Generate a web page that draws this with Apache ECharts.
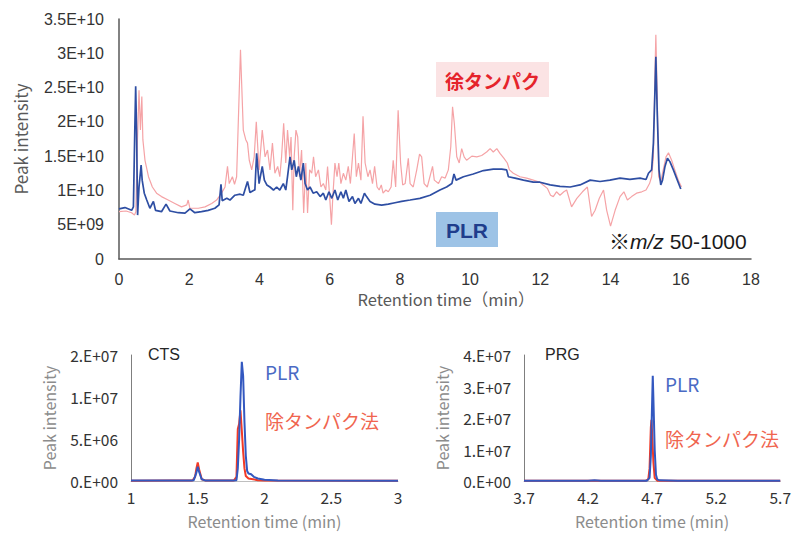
<!DOCTYPE html>
<html>
<head>
<meta charset="utf-8">
<script src="https://cdn.jsdelivr.net/npm/echarts@6/dist/echarts.min.js"></script>
<style>
html,body{margin:0;padding:0;background:#fff;}
#chart{width:794px;height:535px;}
</style>
</head>
<body>
<div id="chart"></div>
<script>
// ---- Top chromatogram (time in min, intensity in units of 1E9) ----
const topYLabels = ['0','5E+09','1E+10','1.5E+10','2E+10','2.5E+10','3E+10','3.5E+10'];
const redTop = [[0,6.9],[0.2,7.0],[0.36,6.75],[0.44,6.4],[0.48,6.9],[0.52,16.4],[0.57,24.6],[0.61,18.8],[0.65,23.7],[0.68,17.4],[0.74,14.4],[0.84,12.0],[0.95,10.5],[1.07,9.6],[1.21,9.1],[1.40,8.6],[1.59,8.1],[1.78,7.6],[1.93,7.9],[1.97,8.6],[2.02,7.4],[2.26,7.4],[2.45,7.6],[2.64,8.1],[2.78,8.6],[2.92,9.6],[3.02,10.5],[3.09,13.5],[3.14,11.0],[3.23,12.0],[3.29,10.9],[3.35,12.0],[3.42,23.7],[3.46,30.5],[3.49,26.1],[3.54,18.8],[3.61,17.4],[3.66,16.9],[3.71,14.4],[3.78,13.0],[3.85,14.9],[3.91,20.0],[3.99,13.0],[4.08,18.8],[4.16,14.9],[4.23,15.9],[4.30,13.0],[4.37,16.9],[4.44,12.5],[4.52,13.5],[4.58,12.0],[4.63,14.9],[4.69,19.8],[4.75,14.0],[4.80,18.8],[4.86,14.9],[4.90,17.8],[4.95,7.1],[4.99,14.9],[5.04,18.8],[5.09,17.8],[5.14,12.0],[5.20,15.9],[5.26,6.7],[5.32,14.0],[5.37,6.7],[5.43,13.0],[5.49,12.5],[5.54,14.9],[5.60,12.0],[5.68,13.0],[5.75,10.5],[5.82,11.0],[5.89,10.06],[5.94,13.5],[6.00,9.1],[6.05,5.0],[6.09,9.1],[6.15,14.0],[6.21,12.0],[6.26,14.0],[6.32,11.0],[6.39,12.5],[6.46,11.5],[6.53,13.5],[6.59,11.0],[6.65,14.9],[6.70,18.3],[6.76,12.0],[6.82,14.0],[6.89,11.5],[6.95,20.8],[7.01,14.0],[7.09,12.0],[7.15,13.0],[7.22,11.0],[7.28,13.5],[7.35,10.5],[7.41,10.06],[7.47,10.8],[7.52,9.6],[7.60,10.06],[7.67,9.8],[7.75,10.5],[7.81,14.4],[7.88,10.5],[7.95,21.7],[8.02,14.0],[8.08,10.8],[8.15,11.0],[8.24,14.7],[8.29,11.0],[8.38,10.5],[8.48,13.0],[8.56,15.3],[8.62,14.9],[8.69,11.0],[8.78,10.5],[8.88,12.5],[8.93,13.5],[8.98,11.5],[9.10,11.0],[9.19,12.0],[9.29,11.8],[9.38,13.0],[9.45,16.4],[9.50,22.2],[9.55,19.8],[9.62,14.9],[9.69,14.0],[9.76,16.1],[9.83,14.9],[9.90,14.4],[10.05,15.0],[10.19,14.9],[10.33,15.1],[10.47,15.6],[10.57,16.1],[10.66,15.6],[10.76,16.1],[10.85,15.4],[10.96,14.7],[11.06,14.0],[11.12,13.0],[11.23,12.5],[11.42,12.0],[11.61,11.8],[11.80,11.5],[11.99,11.2],[12.08,10.8],[12.20,10.3],[12.29,9.3],[12.37,9.1],[12.46,9.8],[12.56,9.3],[12.67,9.8],[12.75,10.06],[12.89,7.6],[13.04,8.85],[13.20,9.8],[13.34,10.5],[13.46,6.2],[13.56,7.1],[13.68,8.85],[13.80,10.06],[13.89,7.1],[14.00,4.8],[14.13,7.1],[14.27,9.1],[14.38,9.8],[14.48,8.6],[14.60,9.1],[14.74,9.6],[14.89,9.8],[15.01,10.06],[15.11,11.0],[15.17,12.0],[15.22,14.9],[15.26,26.1],[15.29,32.7],[15.33,23.7],[15.37,12.0],[15.43,11.3],[15.50,13.0],[15.58,14.9],[15.65,15.5],[15.74,14.4],[15.83,13.0],[15.93,11.5],[16.02,10.5]];
const blueTop = [[0,7.3],[0.17,7.5],[0.36,7.1],[0.41,7.6],[0.45,18.8],[0.475,25.2],[0.50,18.8],[0.53,6.4],[0.57,10.5],[0.63,13.7],[0.66,11.5],[0.72,9.6],[0.79,8.6],[0.88,7.4],[0.98,8.4],[1.04,7.1],[1.21,6.9],[1.34,8.0],[1.45,7.0],[1.69,6.75],[1.88,6.7],[2.02,7.3],[2.16,6.75],[2.35,6.9],[2.54,7.1],[2.73,7.4],[2.85,7.9],[2.905,10.9],[2.94,8.5],[3.07,8.85],[3.16,8.6],[3.30,9.3],[3.45,9.45],[3.54,9.3],[3.66,11.3],[3.73,9.7],[3.83,10.0],[3.87,10.06],[3.92,15.4],[3.99,11.0],[4.08,13.5],[4.14,11.5],[4.21,10.8],[4.30,10.5],[4.40,10.06],[4.49,10.5],[4.58,10.06],[4.68,11.0],[4.75,10.06],[4.80,12.0],[4.87,14.9],[4.92,13.0],[4.99,14.4],[5.05,12.0],[5.11,13.5],[5.18,11.5],[5.25,14.0],[5.30,11.0],[5.37,10.06],[5.44,10.5],[5.53,9.6],[5.63,9.8],[5.73,9.1],[5.82,9.6],[5.89,8.6],[5.98,9.8],[6.06,8.85],[6.15,10.06],[6.23,8.6],[6.32,9.8],[6.39,8.85],[6.46,10.06],[6.55,8.4],[6.65,9.1],[6.72,8.1],[6.82,8.85],[6.89,8.1],[6.99,9.6],[7.05,9.1],[7.15,8.4],[7.29,8.0],[7.48,7.85],[7.67,8.0],[7.86,8.2],[8.05,8.4],[8.29,8.6],[8.57,8.85],[8.86,9.3],[9.14,10.06],[9.33,10.5],[9.48,11.0],[9.54,12.4],[9.60,11.5],[9.81,12.0],[10.09,12.4],[10.38,12.9],[10.66,13.1],[10.90,13.1],[11.04,13.0],[11.09,12.0],[11.28,11.8],[11.52,11.5],[11.80,11.2],[11.99,11.2],[12.28,10.8],[12.56,10.6],[12.85,10.5],[13.13,10.8],[13.42,11.5],[13.70,11.3],[13.98,11.5],[14.27,11.8],[14.55,11.6],[14.84,11.8],[15.01,11.6],[15.08,12.5],[15.17,13.0],[15.22,16.9],[15.26,23.7],[15.29,29.5],[15.33,21.2],[15.38,13.0],[15.43,10.8],[15.48,11.5],[15.55,13.5],[15.62,14.7],[15.69,14.2],[15.79,13.0],[15.88,11.8],[16.00,10.2]];

// ---- CTS (time in min, intensity) ----
const ctsYLabels = ['0.E+00','5.E+06','1.E+07','2.E+07'];
const ctsXLabels = ['1','1.5','2','2.5','3'];
const ctsRed = [[1.0,3e4],[1.3,5e4],[1.46,6e4],[1.48,5e5],[1.49,1.5e6],[1.50,2.2e6],[1.51,1.4e6],[1.53,2e5],[1.56,5e4],[1.77,5e4],[1.79,5e5],[1.80,6.2e6],[1.81,6.8e6],[1.82,8.4e6],[1.83,6.0e6],[1.84,3.5e6],[1.85,1.5e6],[1.86,6e5],[1.88,3e5],[1.95,1e5],[2.0,5e4],[3.0,3e4]];
const ctsBlue = [[1.0,5e4],[1.45,5e4],[1.47,1e5],[1.49,1.0e6],[1.50,1.7e6],[1.51,1.1e6],[1.53,2e5],[1.56,5e4],[1.76,5e4],[1.79,1e5],[1.80,1.5e6],[1.81,5.0e6],[1.82,1.0e7],[1.83,1.42e7],[1.84,1.25e7],[1.85,7.0e6],[1.86,3.0e6],[1.87,1.2e6],[1.88,9e5],[1.90,8e5],[1.92,5e5],[1.95,3e5],[2.0,1.5e5],[2.1,5e4],[3.0,3e4]];

// ---- PRG ----
const prgYLabels = ['0.E+00','1.E+07','2.E+07','3.E+07','4.E+07'];
const prgXTicks = [3.7,4.2,4.7,5.2,5.7];
const prgXLabels = ['3.7','4.2','4.7','5.2','5.7'];
const prgRed = [[3.7,5e4],[4.5,8e4],[4.65,1e5],[4.67,5e5],[4.68,4.0e6],[4.69,1.7e7],[4.695,1.94e7],[4.70,1.5e7],[4.71,6.0e6],[4.72,1.0e6],[4.74,1e5],[4.8,8e4],[5.7,5e4]];
const prgBlue = [[3.7,1e5],[4.2,1e5],[4.25,2.5e5],[4.3,1e5],[4.66,1e5],[4.68,1.0e6],[4.69,8.0e6],[4.70,2.5e7],[4.705,3.34e7],[4.71,2.6e7],[4.72,1.0e7],[4.73,2.0e6],[4.74,5e5],[4.76,2e5],[4.9,1e5],[5.7,1e5]];

const JP = '"Noto Sans CJK JP", "Noto Sans", sans-serif';
const ARIAL = '"Liberation Sans", Arial, "Noto Sans CJK JP", sans-serif';

const chart = echarts.init(document.getElementById('chart'), null, {renderer: 'svg', width: 794, height: 535});

function idxLabel(arr, step, base) { return v => arr[Math.round((v - (base || 0)) / step)] ?? ''; }

const option = {
  animation: false,
  backgroundColor: '#ffffff',
  grid: [
    {left: 119, top: 19, width: 632, height: 240},
    {left: 131, top: 355, width: 267, height: 126},
    {left: 524, top: 355, width: 258, height: 126}
  ],
  xAxis: [
    {gridIndex: 0, type: 'value', min: 0, max: 18, interval: 2,
     axisLine: {show: true, lineStyle: {color: '#595959', width: 1.5}},
     axisTick: {show: false}, splitLine: {show: false},
     axisLabel: {color: '#333', fontSize: 16, fontFamily: ARIAL, margin: 12},
     name: 'Retention time（min）', nameLocation: 'middle', nameGap: 32,
     nameTextStyle: {color: '#595959', fontSize: 16.5, fontFamily: JP, padding: [0, 0, 0, 22]}},
    {gridIndex: 1, type: 'value', min: 1, max: 3, interval: 0.5,
     axisLine: {show: true, lineStyle: {color: '#bfbfbf', width: 1}},
     axisTick: {show: false}, splitLine: {show: false},
     axisLabel: {color: '#333', fontSize: 15.5, fontFamily: JP, margin: 8, formatter: idxLabel(ctsXLabels, 0.5, 1)},
     name: 'Retention time (min)', nameLocation: 'middle', nameGap: 32,
     nameTextStyle: {color: '#8c8c8c', fontSize: 16, fontFamily: JP}},
    {gridIndex: 2, type: 'value', min: 3.7, max: 5.7,
     axisLine: {show: true, lineStyle: {color: '#bfbfbf', width: 1}},
     axisTick: {show: false}, splitLine: {show: false},
     axisLabel: {color: '#333', fontSize: 15.5, fontFamily: JP, margin: 8, customValues: prgXTicks,
       formatter: v => { const i = prgXTicks.findIndex(t => Math.abs(t - v) < 1e-6); return i >= 0 ? prgXLabels[i] : ''; }},
     name: 'Retention time (min)', nameLocation: 'middle', nameGap: 32,
     nameTextStyle: {color: '#8c8c8c', fontSize: 16, fontFamily: JP}}
  ],
  yAxis: [
    {gridIndex: 0, type: 'value', min: 0, max: 35, interval: 5,
     axisLine: {show: true, lineStyle: {color: '#595959', width: 1.5}},
     axisTick: {show: false}, splitLine: {show: false},
     axisLabel: {color: '#333', fontSize: 16, fontFamily: ARIAL, margin: 15, formatter: idxLabel(topYLabels, 5)},
     name: 'Peak intensity', nameLocation: 'middle', nameGap: 90,
     nameTextStyle: {color: '#595959', fontSize: 17, fontFamily: JP}},
    {gridIndex: 1, type: 'value', min: 0, max: 1.5e7, interval: 5e6,
     axisLine: {show: true, lineStyle: {color: '#7f7f7f', width: 1}},
     axisTick: {show: false}, splitLine: {show: false},
     axisLabel: {color: '#333', fontSize: 15.5, fontFamily: JP, margin: 13, formatter: idxLabel(ctsYLabels, 5e6)},
     name: 'Peak intensity', nameLocation: 'middle', nameGap: 74,
     nameTextStyle: {color: '#8c8c8c', fontSize: 16, fontFamily: JP}},
    {gridIndex: 2, type: 'value', min: 0, max: 4e7, interval: 1e7,
     axisLine: {show: true, lineStyle: {color: '#7f7f7f', width: 1}},
     axisTick: {show: false}, splitLine: {show: false},
     axisLabel: {color: '#333', fontSize: 15.5, fontFamily: JP, margin: 13, formatter: idxLabel(prgYLabels, 1e7)},
     name: 'Peak intensity', nameLocation: 'middle', nameGap: 74,
     nameTextStyle: {color: '#8c8c8c', fontSize: 16, fontFamily: JP}}
  ],
  series: [
    {name: '徐タンパク', type: 'line', xAxisIndex: 0, yAxisIndex: 0, data: redTop, showSymbol: false, silent: true,
     lineStyle: {color: '#f5a3a6', width: 1.2}, itemStyle: {color: '#f5a3a6'}},
    {name: 'PLR', type: 'line', xAxisIndex: 0, yAxisIndex: 0, data: blueTop, showSymbol: false, silent: true,
     lineStyle: {color: '#2e4ea3', width: 1.7}, itemStyle: {color: '#2e4ea3'}},
    {name: '除タンパク法 CTS', type: 'line', xAxisIndex: 1, yAxisIndex: 1, data: ctsRed, showSymbol: false, silent: true,
     lineStyle: {color: '#f23a26', width: 2}, itemStyle: {color: '#f23a26'}},
    {name: 'PLR CTS', type: 'line', xAxisIndex: 1, yAxisIndex: 1, data: ctsBlue, showSymbol: false, silent: true,
     lineStyle: {color: '#3358c0', width: 2}, itemStyle: {color: '#3358c0'}},
    {name: '除タンパク法 PRG', type: 'line', xAxisIndex: 2, yAxisIndex: 2, data: prgRed, showSymbol: false, silent: true,
     lineStyle: {color: '#f23a26', width: 2}, itemStyle: {color: '#f23a26'}},
    {name: 'PLR PRG', type: 'line', xAxisIndex: 2, yAxisIndex: 2, data: prgBlue, showSymbol: false, silent: true,
     lineStyle: {color: '#3358c0', width: 2}, itemStyle: {color: '#3358c0'}}
  ],
  graphic: [
    {type: 'rect', x: 436, y: 62, shape: {width: 113, height: 35}, style: {fill: '#fbe3e4'}, silent: true},
    {type: 'text', x: 492.5, y: 80, silent: true,
     style: {text: '徐タンパク', fill: '#e5232b', font: 'bold 19px ' + JP, align: 'center', verticalAlign: 'middle', textAlign: 'center', textVerticalAlign: 'middle'}},
    {type: 'rect', x: 436, y: 212, shape: {width: 62, height: 35}, style: {fill: '#9dc3e6'}, silent: true},
    {type: 'text', x: 467, y: 230, silent: true,
     style: {text: 'PLR', fill: '#1f3d8c', font: 'bold 21px ' + ARIAL, align: 'center', verticalAlign: 'middle', textAlign: 'center', textVerticalAlign: 'middle'}},
    {type: 'text', x: 609, y: 241, silent: true,
     style: {text: '{a|※}{b|m/z}{a| 50-1000}', fill: '#1a1a1a', font: '21px ' + ARIAL, align: 'left', verticalAlign: 'middle', textAlign: 'left', textVerticalAlign: 'middle',
       rich: {a: {fontSize: 21, fontFamily: ARIAL, fill: '#1a1a1a', color: '#1a1a1a'}, b: {fontSize: 21, fontStyle: 'italic', fontFamily: ARIAL, fill: '#1a1a1a', color: '#1a1a1a'}}}},
    {type: 'text', x: 148, y: 354, silent: true,
     style: {text: 'CTS', fill: '#262626', font: '16px ' + ARIAL, align: 'left', verticalAlign: 'middle', textAlign: 'left', textVerticalAlign: 'middle'}},
    {type: 'text', x: 265, y: 371, silent: true,
     style: {text: 'PLR', fill: '#4a6ac4', font: '19px ' + JP, align: 'left', verticalAlign: 'middle', textAlign: 'left', textVerticalAlign: 'middle'}},
    {type: 'text', x: 265, y: 420, silent: true,
     style: {text: '除タンパク法', fill: '#f0654f', font: '19px ' + JP, align: 'left', verticalAlign: 'middle', textAlign: 'left', textVerticalAlign: 'middle'}},
    {type: 'text', x: 545, y: 354, silent: true,
     style: {text: 'PRG', fill: '#262626', font: '16px ' + ARIAL, align: 'left', verticalAlign: 'middle', textAlign: 'left', textVerticalAlign: 'middle'}},
    {type: 'text', x: 665, y: 383, silent: true,
     style: {text: 'PLR', fill: '#4a6ac4', font: '19px ' + JP, align: 'left', verticalAlign: 'middle', textAlign: 'left', textVerticalAlign: 'middle'}},
    {type: 'text', x: 665, y: 438, silent: true,
     style: {text: '除タンパク法', fill: '#f0654f', font: '19px ' + JP, align: 'left', verticalAlign: 'middle', textAlign: 'left', textVerticalAlign: 'middle'}}
  ]
};
chart.setOption(option);
</script>
</body>
</html>
